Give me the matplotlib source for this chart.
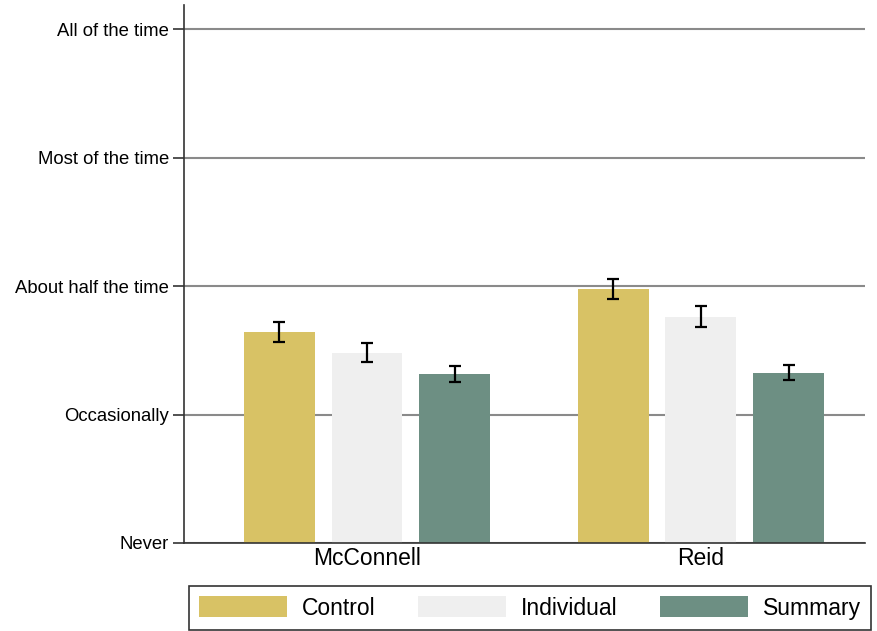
import numpy as np
import matplotlib.pyplot as plt

plt.rcParams['font.family'] = ['Liberation Sans', 'DejaVu Sans']

groups = ['McConnell', 'Reid']
series = ['Control', 'Individual', 'Summary']
colors = ['#d8c265', '#efefef', '#6d8f83']
means = {
    'Control': [1.646, 1.980],
    'Individual': [1.481, 1.761],
    'Summary': [1.317, 1.327],
}
errors = {
    'Control': [0.079, 0.079],
    'Individual': [0.073, 0.082],
    'Summary': [0.060, 0.058],
}
ytick_labels = ['Never', 'Occasionally', 'About half the time',
                'Most of the time', 'All of the time']

fig = plt.figure(figsize=(8.78, 6.31), dpi=100)
ax = fig.add_axes([0.2096, 0.1395, 0.7754, 0.8525])

x = np.arange(len(groups))
width = 0.2126
step = 0.263
for i, s in enumerate(series):
    pos = x + (i - 1) * step
    ax.bar(pos, means[s], width=width, color=colors[i], label=s, zorder=2)
    ax.errorbar(pos, means[s], yerr=errors[s], fmt='none', ecolor='black',
                elinewidth=1.6, capsize=4.2, capthick=1.6, zorder=3)

ax.set_xlim(-0.548, 1.491)
ax.set_ylim(0, 4.19)
ax.set_yticks(range(5))
ax.set_yticklabels(ytick_labels, fontsize=13.3)
ax.set_xticks(x)
ax.set_xticklabels(groups, fontsize=16.5)
ax.tick_params(axis='x', length=0, pad=3)
ax.tick_params(axis='y', length=8, width=1.2, color='#333333', pad=3)
ax.yaxis.grid(True, color='#8a8a8a', linewidth=1.5, zorder=1)
ax.set_axisbelow(True)
for side in ['top', 'right']:
    ax.spines[side].set_visible(False)
for side in ['left', 'bottom']:
    ax.spines[side].set_color('#333333')
    ax.spines[side].set_linewidth(1.2)

leg = fig.legend(loc='lower center', bbox_to_anchor=(0.6036, 0.0), ncol=3,
                 fontsize=16.5, frameon=True, fancybox=False, edgecolor='black',
                 handlelength=3.84, handleheight=1.05, columnspacing=1.85,
                 handletextpad=0.65, borderpad=0.45, borderaxespad=0.05)
leg.get_frame().set_linewidth(1.2)

fig.savefig('out.png', dpi=100)
